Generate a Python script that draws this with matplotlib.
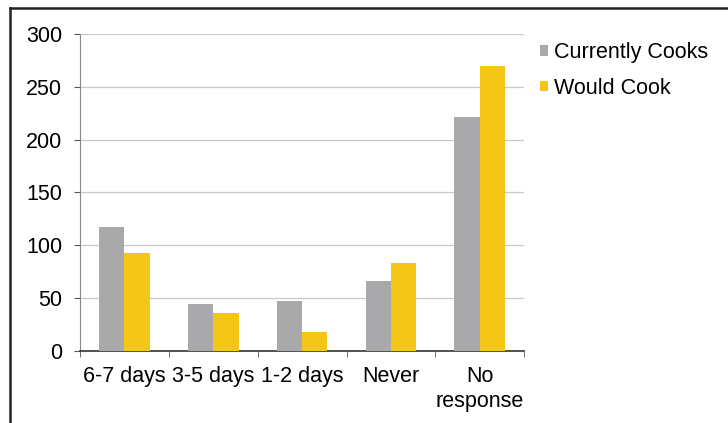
import matplotlib
matplotlib.use("Agg")
import matplotlib.pyplot as plt
from matplotlib.lines import Line2D
import numpy as np

plt.rcParams['font.family'] = ['Liberation Sans', 'DejaVu Sans']

# data
categories = ["6-7 days", "3-5 days", "1-2 days", "Never", "No\nresponse"]
currently_cooks = [117, 45, 47, 66, 221]
would_cook = [93, 36, 18, 83, 270]

gray = "#a9a9ab"
yellow = "#f3c617"
fs = 15.5

fig = plt.figure(figsize=(7.28, 4.23), dpi=100)
ax = fig.add_axes([0.11, 0.170, 0.61, 0.750])

x = np.arange(len(categories))
w = 0.285
ax.bar(x - w / 2, currently_cooks, w, color=gray, label="Currently Cooks", zorder=3)
ax.bar(x + w / 2, would_cook, w, color=yellow, label="Would Cook", zorder=3)

ax.set_xlim(-0.5, len(categories) - 0.5)
ax.set_ylim(0, 300)
ax.set_yticks(range(0, 301, 50))
ax.set_xticks(x)
ax.set_xticklabels(categories, fontsize=fs, linespacing=1.2)
ax.set_xticks(np.arange(-0.5, len(categories), 1), minor=True)
ax.tick_params(axis='x', which='major', length=0, pad=11)
ax.tick_params(axis='x', which='minor', length=4, color="#555555")
ax.tick_params(axis='y', labelsize=fs, length=4, color="#555555", pad=9)

ax.grid(axis='y', color="#c8c8c8", linewidth=0.9, zorder=0)
for s in ["top", "right"]:
    ax.spines[s].set_visible(False)
ax.spines["left"].set_color("#888888")
ax.spines["bottom"].set_color("#333333")
ax.spines["bottom"].set_linewidth(1.2)

ax.legend(loc="upper left", bbox_to_anchor=(0.742, 0.9), bbox_transform=fig.transFigure,
          frameon=False, fontsize=fs, handlelength=0.35, handleheight=0.35,
          handletextpad=0.3, labelspacing=0.68, borderaxespad=0, borderpad=0)

# scan frame: left and top edges
fig.add_artist(Line2D([10 / 728, 10 / 728], [0, 1 - 8 / 423], color="#222222", lw=1.8))
fig.add_artist(Line2D([10 / 728, 1], [1 - 8 / 423, 1 - 8 / 423], color="#222222", lw=1.8))

fig.savefig("out.png", dpi=100)
